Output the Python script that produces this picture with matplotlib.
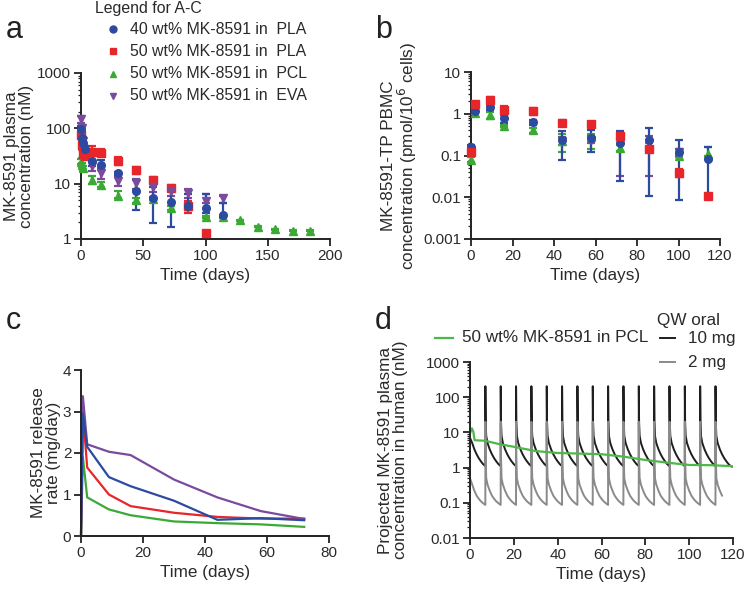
import numpy as np
import matplotlib
matplotlib.use("Agg")
import matplotlib.pyplot as plt
from matplotlib.ticker import LogLocator, FuncFormatter, NullFormatter, MultipleLocator
from matplotlib.lines import Line2D

plt.rcParams['font.family'] = ['Liberation Sans', 'DejaVu Sans']
plt.rcParams['font.size'] = 11
TXT = '#2a2a2a'
plt.rcParams['text.color'] = TXT
plt.rcParams['axes.labelcolor'] = TXT
plt.rcParams['xtick.color'] = TXT
plt.rcParams['ytick.color'] = TXT
FS_TICK = 11.0
FS_LAB = 12.3
FS_LEGA = 11.4
FS_LEGD = 12.3

# ---------------- colours ----------------
C_BLUE = '#2b4aa0'
C_RED = '#e6262b'
C_GREEN = '#3aaa35'
C_PURPLE = '#7a4a9c'

labels = ['40 wt% MK-8591 in  PLA', '50 wt% MK-8591 in  PLA',
          '50 wt% MK-8591 in  PCL', '50 wt% MK-8591 in  EVA']

# ---------------- panel a data ----------------
a_blue_t = [0, 1, 2, 3, 9, 16, 30, 44, 58, 72, 86, 100, 114]
a_blue_y = [97, 68, 55, 43, 26, 22, 15.5, 7.5, 5.4, 4.7, 3.9, 3.6, 2.7]
a_blue_lo = [85, 55, 45, 38, 21, 18, 14.5, 3.4, 1.97, 1.62, 3.3, 3.0, 2.5]
a_blue_hi = [110, 80, 65, 48, 32, 27, 16.5, 11.5, 8.6, 8.2, 6.5, 6.6, 4.4]

a_red_t = [0, 1, 2, 3, 9, 16, 30, 44, 58, 72, 86, 100]
a_red_y = [75, 50, 35, 32, 38, 36, 26, 17.5, 11.6, 8.5, 3.9, 1.3]
a_red_lo = [65, 42, 30, 29, 32, 32, 22, 15, 10.5, 7.5, 2.9, 1.25]
a_red_hi = [85, 58, 40, 35, 48, 42, 30, 20, 13, 9.5, 4.8, 1.35]

a_green_t = [0, 1, 2, 9, 16, 30, 44, 58, 72, 86, 100, 114, 128, 142, 156, 170, 184]
a_green_y = [25, 22, 19, 11.5, 9.5, 6.0, 5.0, 5.3, 3.7, 4.0, 2.5, 2.5, 2.2, 1.67, 1.5, 1.42, 1.42]
a_green_lo = [23, 20, 17, 10, 8.8, 5.5, 4.5, 5.0, 3.4, 3.8, 2.4, 2.4, 2.15, 1.63, 1.47, 1.4, 1.4]
a_green_hi = [28, 24, 21, 14, 10.5, 7.5, 5.6, 5.7, 4.0, 4.2, 2.6, 2.6, 2.25, 1.7, 1.53, 1.45, 1.45]

a_purple_t = [0, 1, 2, 9, 16, 30, 44, 58, 72, 86, 100, 114]
a_purple_y = [145, 100, 60, 21, 15.4, 11.2, 10.2, 8.6, 7.3, 6.7, 4.9, 5.5]
a_purple_lo = [125, 85, 50, 17, 12, 9, 8, 7, 6, 5.4, 4.5, 4.4]
a_purple_hi = [165, 115, 70, 26, 19, 13, 12, 10, 8.5, 7.9, 6.5, 5.9]

# ---------------- panel b data ----------------
b_t = [0, 2, 9, 16, 30, 44, 58, 72, 86, 100, 114]
b_blue_y = [0.16, 1.15, 1.42, 0.78, 0.63, 0.24, 0.26, 0.2, 0.24, 0.12, 0.082]
b_blue_lo = [0.14, 1.05, 1.2, 0.6, 0.55, 0.08, 0.12, 0.025, 0.011, 0.0085, 0.0103]
b_blue_hi = [0.18, 1.25, 1.65, 0.95, 0.72, 0.38, 0.40, 0.38, 0.46, 0.23, 0.16]

b_red_y = [0.12, 1.67, 2.1, 1.2, 1.15, 0.6, 0.57, 0.3, 0.14, 0.039, 0.0105]
b_red_lo = [0.1, 1.4, 1.7, 1.0, 0.95, 0.5, 0.5, 0.25, 0.12, 0.03, 0.0102]
b_red_hi = [0.14, 1.9, 2.5, 1.5, 1.35, 0.72, 0.65, 0.35, 0.16, 0.048, 0.0108]

b_green_y = [0.08, 1.06, 0.92, 0.5, 0.4, 0.22, 0.28, 0.15, 0.18, 0.1, 0.11]
b_green_lo = [0.07, 1.0, 0.75, 0.47, 0.35, 0.12, 0.14, 0.13, 0.16, 0.09, 0.1]
b_green_hi = [0.09, 1.12, 1.1, 0.55, 0.45, 0.32, 0.32, 0.18, 0.2, 0.11, 0.16]

b_purple_t = [44, 58, 72, 86, 100]
b_purple_y = [0.22, 0.24, 0.2, 0.2, 0.12]
b_purple_lo = [0.18, 0.2, 0.033, 0.033, 0.1]
b_purple_hi = [0.27, 0.3, 0.3, 0.3, 0.14]

# ---------------- panel c data ----------------
c_t = [0, 0.6, 2, 9, 16, 30, 44, 58, 72]
c_blue = [0, 2.95, 2.15, 1.42, 1.2, 0.85, 0.39, 0.43, 0.38]
c_red = [0, 3.0, 1.65, 1.0, 0.72, 0.56, 0.46, 0.42, 0.42]
c_green = [0, 1.9, 0.93, 0.64, 0.5, 0.35, 0.31, 0.28, 0.22]
c_purple = [0, 3.37, 2.21, 2.03, 1.95, 1.36, 0.93, 0.6, 0.41]

# ---------------- panel d data ----------------
d_pcl_t = [0, 0.5, 0.9, 1.5, 2.1, 4, 6.8, 13, 20, 30, 40, 50, 60, 70, 80, 90, 100, 110, 119.5]
d_pcl_y = [9.3, 11.5, 13, 10.5, 6.0, 5.9, 5.8, 4.7, 3.9, 2.95, 2.6, 2.5, 2.4, 2.05, 1.65, 1.38, 1.19, 1.17, 1.1]

dose_days = [7, 14, 21, 28, 35, 42, 49, 56, 63, 70, 77, 84, 91, 98, 105, 112]
first_t = [0, 1, 2, 3, 4, 5, 6, 7]
first_10mg = [7.0, 5.0, 3.3, 2.4, 1.85, 1.5, 1.25, 1.1]
first_2mg = [0.5, 0.33, 0.22, 0.16, 0.13, 0.11, 0.097, 0.087]
cycle_dt = [0.0, 0.02, 0.15, 0.4, 1, 2, 3, 4, 5, 6, 7]
cycle_10mg = [1.1, 205, 20, 8.0, 5.0, 3.3, 2.4, 1.85, 1.5, 1.25, 1.1]
cycle_2mg = [0.087, 20, 2.0, 0.5, 0.33, 0.22, 0.16, 0.13, 0.11, 0.097, 0.087]
last_end_10mg = 7.5
last_end_2mg = 3.6


def build(first_y, cyc_y, end_dt):
    ts = list(first_t)
    ys = list(first_y)
    for i, d in enumerate(dose_days):
        last = i == len(dose_days) - 1
        for dt, y in zip(cycle_dt, cyc_y):
            if last and dt > end_dt:
                break
            ts.append(d + dt)
            ys.append(y)
        if last and end_dt > cycle_dt[-1]:
            ts.append(d + end_dt)
            ys.append(cyc_y[-1] * 0.97)
    return ts, ys


# ---------------- figure ----------------
fig = plt.figure(figsize=(7.5, 5.89), dpi=100)

def fx(px):
    return px / 750.0

def fy(py):
    return 1 - py / 589.0

def make_ax(l, r, t, b):
    return fig.add_axes([fx(l), fy(b), fx(r) - fx(l), fy(t) - fy(b)])

def style(ax):
    for s in ['top', 'right']:
        ax.spines[s].set_visible(False)
    for s in ['left', 'bottom']:
        ax.spines[s].set_linewidth(1.4)
        ax.spines[s].set_color('#222222')
    ax.tick_params(which='major', direction='out', length=5, width=1.3, color='#222222',
                   labelsize=FS_TICK, pad=2)
    ax.tick_params(which='minor', direction='out', length=2.5, width=0.9, color='#222222')

def logfmt(ax):
    ax.set_yscale('log')
    ax.yaxis.set_major_locator(LogLocator(base=10, numticks=20))
    ax.yaxis.set_minor_locator(LogLocator(base=10, subs=np.arange(2, 10), numticks=20))
    ax.yaxis.set_major_formatter(FuncFormatter(lambda v, p: '{:g}'.format(v)))
    ax.yaxis.set_minor_formatter(NullFormatter())

def eb(ax, t, y, lo, hi, color, marker, ms):
    y = np.array(y); lo = np.array(lo); hi = np.array(hi)
    ax.errorbar(t, y, yerr=[y - lo, hi - y], fmt='none', ecolor=color, elinewidth=1.6,
                capsize=3, capthick=1.6, clip_on=False, zorder=3)
    ax.plot(t, y, linestyle='none', marker=marker, color=color, ms=ms, mec=color,
            clip_on=False, zorder=4)

def labels_xy(ax, xl, yl, l, r, t, b, yright_px):
    ax.set_xlabel(xl, fontsize=FS_LAB)
    ax.set_ylabel(yl, fontsize=FS_LAB, linespacing=1.0)
    ax.yaxis.set_label_coords((yright_px - l) / (r - l), 0.5)
    ax.xaxis.set_label_coords(0.5, -29.0 / (b - t))

# ---- panel a ----
A = (81, 330, 73, 239)
axa = make_ax(*A)
style(axa)
logfmt(axa)
eb(axa, a_green_t, a_green_y, a_green_lo, a_green_hi, C_GREEN, '^', 5.5)
eb(axa, a_red_t, a_red_y, a_red_lo, a_red_hi, C_RED, 's', 5.5)
eb(axa, a_purple_t, a_purple_y, a_purple_lo, a_purple_hi, C_PURPLE, 'v', 5.5)
eb(axa, a_blue_t, a_blue_y, a_blue_lo, a_blue_hi, C_BLUE, 'o', 5.5)
axa.set_xlim(0, 200)
axa.set_ylim(1, 1000)
axa.xaxis.set_major_locator(MultipleLocator(50))
labels_xy(axa, 'Time (days)', 'MK-8591 plasma\nconcentration (nM)', *A, 34)

# legend for A-C (placed in figure pixels)
fig.text(fx(95), fy(8), 'Legend for A-C', fontsize=FS_LEGA, va='center', ha='left')
for lab, m, c, yy in zip(labels, ['o', 's', '^', 'v'], [C_BLUE, C_RED, C_GREEN, C_PURPLE],
                         [29, 51, 74, 96]):
    fig.add_artist(Line2D([fx(113)], [fy(yy)], linestyle='none', marker=m, color=c, ms=5,
                          transform=fig.transFigure))
    fig.text(fx(130), fy(yy), lab, fontsize=FS_LEGA, va='center', ha='left')

# ---- panel b ----
B = (471, 720, 72, 239)
axb = make_ax(*B)
style(axb)
logfmt(axb)
eb(axb, b_t, b_green_y, b_green_lo, b_green_hi, C_GREEN, '^', 5.5)
eb(axb, b_purple_t, b_purple_y, b_purple_lo, b_purple_hi, C_PURPLE, 'v', 5.5)
eb(axb, b_t, b_blue_y, b_blue_lo, b_blue_hi, C_BLUE, 'o', 5.5)
eb(axb, b_t, b_red_y, b_red_lo, b_red_hi, C_RED, 's', 5.5)
axb.set_xlim(0, 120)
axb.set_ylim(0.001, 10)
axb.xaxis.set_major_locator(MultipleLocator(20))
labels_xy(axb, 'Time (days)', 'MK-8591-TP PBMC\nconcentration (pmol/10$^6$ cells)', *B, 419)

# ---- panel c ----
C = (81, 329, 370, 536)
axc = make_ax(*C)
style(axc)
axc.plot(c_t, c_green, color=C_GREEN, lw=1.6, clip_on=False)
axc.plot(c_t, c_red, color=C_RED, lw=1.6, clip_on=False)
axc.plot(c_t, c_purple, color=C_PURPLE, lw=1.6, clip_on=False)
axc.plot(c_t, c_blue, color=C_BLUE, lw=1.6, clip_on=False)
axc.set_xlim(0, 80)
axc.set_ylim(0, 4)
axc.xaxis.set_major_locator(MultipleLocator(20))
axc.yaxis.set_major_locator(MultipleLocator(1))
labels_xy(axc, 'Time (days)', 'MK-8591 release\nrate (mg/day)', *C, 61)

# ---- panel d ----
D = (470, 733, 362, 538)
axd = make_ax(*D)
style(axd)
logfmt(axd)
t10, y10 = build(first_10mg, cycle_10mg, last_end_10mg)
t2, y2 = build(first_2mg, cycle_2mg, last_end_2mg)
axd.plot(t10, y10, color='#1e1e1e', lw=1.4)
axd.plot(t2, y2, color='#8a8a8a', lw=1.4)
axd.plot(d_pcl_t, d_pcl_y, color='#4cb848', lw=1.6)
axd.set_xlim(0, 120)
axd.set_ylim(0.01, 1000)
axd.xaxis.set_major_locator(MultipleLocator(20))
labels_xy(axd, 'Time (days)', 'Projected MK-8591 plasma\nconcentration in human (nM)', *D, 408)

# panel d legends
def leg_line(x0, x1, y, color, lw):
    fig.add_artist(Line2D([fx(x0), fx(x1)], [fy(y), fy(y)], color=color, lw=lw,
                          transform=fig.transFigure))

leg_line(435, 453, 338, '#4cb848', 1.6)
fig.text(fx(462), fy(338), '50 wt% MK-8591 in PCL', fontsize=FS_LEGD, va='center', ha='left')
fig.text(fx(657), fy(320), 'QW oral', fontsize=FS_LEGD, va='center', ha='left')
leg_line(660, 675, 338, '#1e1e1e', 1.4)
fig.text(fx(688), fy(338), '10 mg', fontsize=FS_LEGD, va='center', ha='left')
leg_line(660, 675, 362, '#8a8a8a', 1.4)
fig.text(fx(688), fy(362), '2 mg', fontsize=FS_LEGD, va='center', ha='left')

# panel letters
for lab, x, y in [('a', 6, 30), ('b', 375, 30), ('c', 6, 321), ('d', 375, 321)]:
    fig.text(fx(x), fy(y), lab, fontsize=22, ha='left', va='center', color='#222222')

fig.savefig('out.png', dpi=100)
